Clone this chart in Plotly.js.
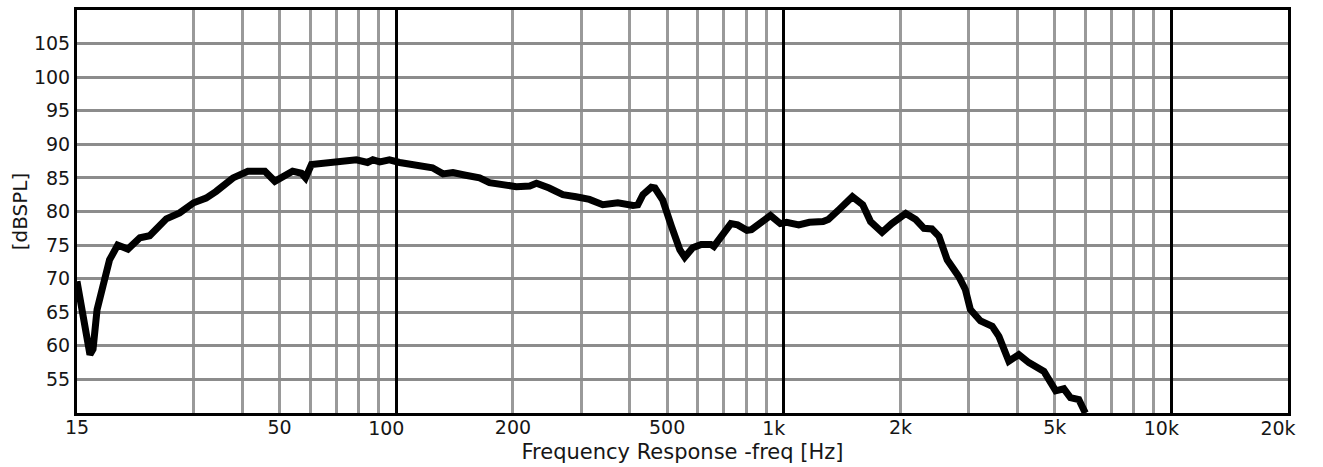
<!DOCTYPE html>
<html>
<head>
<meta charset="utf-8">
<script src="https://cdn.plot.ly/plotly-3.0.1.min.js"></script>
<style>
  html, body { margin: 0; padding: 0; background: #ffffff; }
  #chart { width: 1323px; height: 467px; }
</style>
</head>
<body>
<div id="chart"></div>
<script>
// Frequency response (Hz) and SPL (dB)
const freq = [15.0, 15.5, 15.86, 16.2, 16.5, 16.9, 17.5, 18.2, 19.1, 20.3, 21.8, 23.1, 25.5, 27.6, 30.0, 32.3, 34.3, 37.9, 41.4, 45.8, 48.6, 51, 54, 56.9, 58.3, 60.4, 66, 70, 78.9, 84.3, 87, 90.7, 96, 102, 110, 124, 132, 140, 151, 164, 174, 188, 204, 221, 230, 248, 269, 291, 315, 341, 373, 408, 420, 433, 455, 465, 487, 513, 539, 555, 582, 612, 648, 660, 700, 730, 760, 803, 825, 879, 924, 979, 1017, 1093, 1164, 1263, 1302, 1389, 1448, 1503, 1598, 1674, 1793, 1900, 2064, 2190, 2300, 2410, 2514, 2640, 2829, 2940, 3030, 3218, 3450, 3590, 3807, 4040, 4290, 4690, 5030, 5280, 5490, 5770, 6000];
const spl = [69.6, 65.4, 61.9, 58.7, 59.5, 65.4, 68.9, 72.8, 75.0, 74.4, 76.1, 76.4, 78.9, 79.8, 81.3, 82.0, 83.0, 85.0, 86.0, 86.0, 84.5, 85.2, 86.0, 85.7, 85.0, 87.0, 87.2, 87.2, 87.7, 87.3, 87.7, 87.4, 87.7, 87.3, 86.9, 86.5, 85.6, 85.8, 85.4, 85.0, 84.3, 84.0, 83.7, 83.8, 84.2, 83.5, 82.5, 82.2, 81.8, 81.0, 81.3, 80.9, 81.0, 82.5, 83.6, 83.5, 81.7, 77.8, 74.3, 73.2, 74.6, 75.1, 75.1, 74.8, 76.9, 78.2, 78.0, 77.2, 77.3, 78.5, 79.4, 78.2, 78.4, 78.0, 78.4, 78.5, 78.8, 80.3, 81.5, 82.2, 81.0, 78.5, 76.9, 78.2, 79.7, 78.8, 77.5, 77.4, 76.3, 72.8, 70.3, 68.4, 65.4, 63.7, 62.9, 61.4, 57.7, 58.7, 57.5, 56.2, 53.3, 53.6, 52.3, 52.0, 50.0];

// Axis ticks and grid positions
const xTickVals = [15, 50, 200, 500, 2000, 5000];
const xTickText = ['15', '50', '200', '500', '2k', '5k'];
const decadeVals = [100, 1000, 10000, 20000];
const decadeText = ['100', '1k', '10k', '20k'];
const minorGrid = [30, 40, 60, 70, 80, 90, 300, 400, 600, 700, 800, 900, 3000, 4000, 6000, 7000, 8000, 9000];
const yTickVals = [55, 60, 65, 70, 75, 80, 85, 90, 95, 100, 105];
const yTickText = ['55', '60', '65', '70', '75', '80', '85', '90', '95', '100', '105'];
const xRange = [15, 20000];
const yRange = [50, 110];

const FONT = 'DejaVu Sans, Liberation Sans, Arial, sans-serif';
const TXT = '#161616';
const logRange = [Math.log10(xRange[0]), Math.log10(xRange[1])];

const curve = {
  x: freq,
  y: spl,
  type: 'scatter',
  mode: 'lines',
  line: { color: '#000000', width: 7, shape: 'linear' },
  hoverinfo: 'x+y',
  showlegend: false
};

// empty helper trace so the decade axis (black gridlines + labels) is drawn
const decadeAxisHolder = {
  x: [],
  y: [],
  xaxis: 'x2',
  yaxis: 'y',
  type: 'scatter',
  mode: 'lines',
  hoverinfo: 'skip',
  showlegend: false
};

const layout = {
  width: 1323,
  height: 467,
  margin: { l: 77, r: 35, t: 10, b: 54 },
  paper_bgcolor: '#ffffff',
  plot_bgcolor: '#ffffff',
  font: { family: FONT, size: 19, color: TXT },
  showlegend: false,
  xaxis: {
    type: 'log',
    range: logRange,
    tickmode: 'array',
    tickvals: xTickVals,
    ticktext: xTickText,
    ticks: '',
    ticklabelstandoff: -5,
    showgrid: true,
    gridcolor: '#9a9a9a',
    gridwidth: 3,
    minor: { tickmode: 'array', tickvals: minorGrid, showgrid: true, gridcolor: '#9a9a9a', gridwidth: 3, ticks: '' },
    showline: true,
    mirror: true,
    linecolor: '#000000',
    linewidth: 3,
    zeroline: false,
    tickfont: { family: FONT, size: 19, color: TXT },
    title: { text: 'Frequency Response -freq [Hz]', font: { family: FONT, size: 21, color: TXT }, standoff: 8 }
  },
  xaxis2: {
    type: 'log',
    overlaying: 'x',
    anchor: 'y',
    side: 'bottom',
    range: logRange,
    tickmode: 'array',
    tickvals: decadeVals,
    ticktext: decadeText,
    ticks: '',
    ticklabelshift: -10,
    ticklabelstandoff: 2,
    showgrid: true,
    gridcolor: '#000000',
    gridwidth: 3,
    showline: false,
    zeroline: false,
    tickfont: { family: FONT, size: 19, color: TXT }
  },
  yaxis: {
    range: yRange,
    tickmode: 'array',
    tickvals: yTickVals,
    ticktext: yTickText,
    ticks: '',
    showgrid: true,
    gridcolor: '#8c8c8c',
    gridwidth: 3,
    showline: true,
    mirror: true,
    linecolor: '#000000',
    linewidth: 3,
    zeroline: false,
    tickfont: { family: FONT, size: 19, color: TXT },
    title: { text: '[dBSPL]', font: { family: FONT, size: 20, color: TXT }, standoff: 1 }
  }
};

Plotly.newPlot('chart', [curve, decadeAxisHolder], layout, { staticPlot: true, displayModeBar: false });
</script>
</body>
</html>
